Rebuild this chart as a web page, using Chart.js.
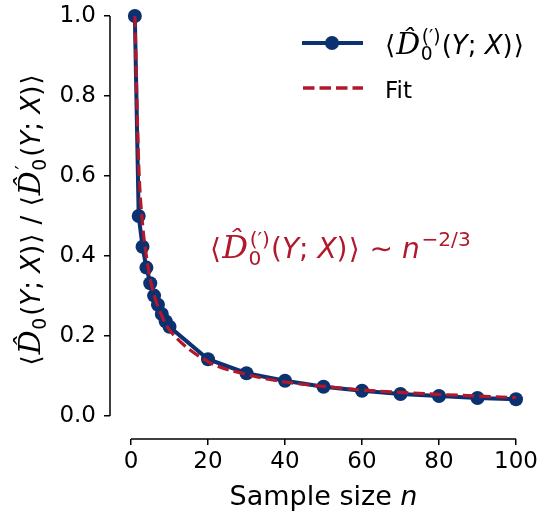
<!DOCTYPE html>
<html>
<head>
<meta charset="utf-8">
<script src="https://cdn.jsdelivr.net/npm/chart.js@4.4.0/dist/chart.umd.min.js"></script>
<style>
  html, body { margin: 0; padding: 0; background: #fff; }
  #wrap { width: 543px; height: 512px; }
</style>
</head>
<body>
<div id="wrap"><canvas id="myChart" width="543" height="512"></canvas></div>
<script>
const sampleSizes = [1, 2, 3, 4, 5, 6, 7, 8, 9, 10, 20, 30, 40, 50, 60, 70, 80, 90, 100];
const ratioValues = [1.0, 0.50, 0.423, 0.371, 0.332, 0.301, 0.278, 0.255, 0.237, 0.223, 0.142, 0.107, 0.088, 0.073, 0.063, 0.055, 0.050, 0.045, 0.042];
const fitValues   = [1.0, 0.63, 0.48, 0.40, 0.342, 0.303, 0.273, 0.25, 0.231, 0.215, 0.136, 0.104, 0.085, 0.074, 0.065, 0.059, 0.054, 0.050, 0.046];
const xTicks = [0, 20, 40, 60, 80, 100];
const yTicks = [0.0, 0.2, 0.4, 0.6, 0.8, 1.0];

const navy = "#0b3170";
const red = "#b2182b";

// --- tiny math-ish text renderer (hat, sub/superscripts, italics) ---
function fontFor(p, size) {
  const s = size * (p.scale || 1);
  if (p.cal) return "italic " + s + "px 'DejaVu Serif'";
  if (p.it) return "italic " + s + "px 'DejaVu Sans'";
  return s + "px 'DejaVu Sans'";
}
function partWidth(ctx, p, size) {
  if (p.t !== undefined) {
    ctx.font = fontFor(p, size);
    return ctx.measureText(p.t).width + (p.pad || 0) * size;
  }
  const s = size * 0.72;
  let w = 0;
  ["sub", "sup"].forEach(k => {
    if (p[k]) { ctx.font = s + "px 'DejaVu Sans'"; w = Math.max(w, ctx.measureText(p[k]).width); }
  });
  return w + size * 0.1;
}
function drawMath(ctx, parts, x, y, size, color, align) {
  let total = 0;
  parts.forEach(p => total += partWidth(ctx, p, size));
  let cx = x;
  if (align === "center") cx = x - total / 2;
  if (align === "right") cx = x - total;
  ctx.fillStyle = color;
  ctx.textBaseline = "alphabetic";
  ctx.textAlign = "left";
  parts.forEach(p => {
    const w = partWidth(ctx, p, size);
    if (p.t !== undefined) {
      ctx.font = fontFor(p, size);
      ctx.fillText(p.t, cx + (p.pad || 0) * size / 2, y);
    } else {
      const s = size * 0.72;
      ctx.font = s + "px 'DejaVu Sans'";
      if (p.sub) ctx.fillText(p.sub, cx + size * 0.02, y + size * 0.24);
      if (p.sup) ctx.fillText(p.sup, cx + size * 0.06, y - size * 0.42);
    }
    cx += w;
  });
  return total;
}

const dHat = (sup) => [
  { t: "\u27E8", pad: 0.08 },
  { t: "D\u0302", cal: true, scale: 1.15 },
  { sub: "0", sup: sup },
  { t: "(" }, { t: "Y", it: true }, { t: "; " }, { t: "X", it: true }, { t: ")" },
  { t: "\u27E9", pad: 0.08 }
];

const decorations = {
  id: "decorations",
  afterDraw(chart) {
    const ctx = chart.ctx;
    const xs = chart.scales.x, ys = chart.scales.y;
    ctx.save();
    // offset spines
    ctx.strokeStyle = "#000";
    ctx.lineWidth = 1.5;
    ctx.beginPath();
    ctx.moveTo(xs.left, ys.getPixelForValue(1.0));
    ctx.lineTo(xs.left, ys.getPixelForValue(0));
    ctx.moveTo(xs.getPixelForValue(0), ys.bottom);
    ctx.lineTo(xs.getPixelForValue(100), ys.bottom);
    ctx.stroke();

    // x title
    drawMath(ctx, [{ t: "Sample size " }, { t: "n", it: true }],
      (xs.getPixelForValue(0) + xs.getPixelForValue(100)) / 2, 505, 27, "#000", "center");

    // y title (rotated)
    ctx.save();
    ctx.translate(40, 220);
    ctx.rotate(-Math.PI / 2);
    const yTitle = dHat(null).concat([{ t: " / " }]).concat(dHat("\u2032"));
    drawMath(ctx, yTitle, 0, 0, 26, "#000", "center");
    ctx.restore();

    // legend
    ctx.strokeStyle = navy;
    ctx.lineWidth = 4;
    ctx.beginPath();
    ctx.moveTo(302, 43); ctx.lineTo(363, 43);
    ctx.stroke();
    ctx.fillStyle = navy;
    ctx.beginPath();
    ctx.arc(332, 43, 7, 0, Math.PI * 2);
    ctx.fill();
    drawMath(ctx, dHat("(\u2032)"), 384, 54, 26, "#000", "left");

    ctx.strokeStyle = red;
    ctx.lineWidth = 3.3;
    ctx.setLineDash([11.5, 5]);
    ctx.beginPath();
    ctx.moveTo(303, 88); ctx.lineTo(363, 88);
    ctx.stroke();
    ctx.setLineDash([]);
    drawMath(ctx, [{ t: "Fit" }], 385, 98, 23, "#000", "left");

    // annotation
    drawMath(ctx, dHat("(\u2032)").concat([{ t: " \u223C " }, { t: "n", it: true }, { sup: "\u22122/3" }]),
      209, 258, 28, red, "left");
    ctx.restore();
  }
};

const ctx = document.getElementById("myChart").getContext("2d");

new Chart(ctx, {
  type: "line",
  data: {
    datasets: [
      {
        label: "Fit",
        data: sampleSizes.map((n, i) => ({ x: n, y: fitValues[i] })),
        borderColor: red,
        borderWidth: 3.2,
        borderDash: [11.5, 5],
        pointRadius: 0,
        cubicInterpolationMode: "monotone",
        fill: false,
        order: 0,
        clip: false
      },
      {
        label: "data",
        data: sampleSizes.map((n, i) => ({ x: n, y: ratioValues[i] })),
        borderColor: navy,
        backgroundColor: navy,
        borderWidth: 4,
        pointRadius: 7,
        pointBackgroundColor: navy,
        pointBorderWidth: 0,
        tension: 0,
        fill: false,
        order: 1,
        clip: false
      }
    ]
  },
  options: {
    responsive: false,
    animation: false,
    layout: { padding: { left: 0, right: 27, top: 16, bottom: 0 } },
    plugins: { legend: { display: false }, tooltip: { enabled: false } },
    scales: {
      x: {
        type: "linear",
        min: -5.4545,
        max: 100,
        afterBuildTicks: s => { s.ticks = xTicks.map(v => ({ value: v })); },
        afterFit: s => { s.height = 73; s.paddingLeft = 0; s.paddingRight = 0; },
        border: { display: false },
        grid: { drawOnChartArea: false, drawTicks: true, tickLength: 6, color: "#000", lineWidth: 1.5 },
        ticks: { color: "#000", font: { family: "'DejaVu Sans'", size: 23 }, padding: 3, maxRotation: 0 }
      },
      y: {
        type: "linear",
        min: -0.0575,
        max: 1.0,
        afterBuildTicks: s => { s.ticks = yTicks.map(v => ({ value: v })); },
        afterFit: s => { s.width = 110; s.paddingTop = 0; s.paddingBottom = 0; },
        border: { display: false },
        grid: { drawOnChartArea: false, drawTicks: true, tickLength: 6, color: "#000", lineWidth: 1.5 },
        ticks: { color: "#000", font: { family: "'DejaVu Sans'", size: 23 }, padding: 8,
          callback: v => v.toFixed(1) }
      }
    }
  },
  plugins: [decorations]
});
</script>
</body>
</html>
